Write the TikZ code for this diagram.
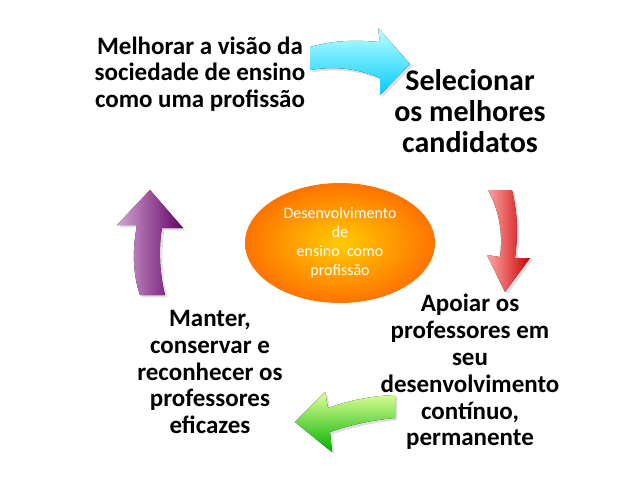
\documentclass[tikz,border=0pt]{standalone}
\usepackage{fontspec}
\setmainfont{Carlito}
\usetikzlibrary{positioning,shadows,shapes.geometric}
\begin{document}
\begin{tikzpicture}[x=1pt,y=-1pt]
\tikzstyle{stagebox}=[align=center, font=\bfseries\fontsize{25}{26.8}\selectfont]
\tikzstyle{bigstage}=[align=center, font=\bfseries\fontsize{30}{31}\selectfont]
\tikzstyle{blockarrow}=[draw=none, drop shadow={opacity=0.25}]
\useasboundingbox (0,0) rectangle (638,479);

% centre
\node [ellipse, minimum width=190pt, minimum height=120pt, inner sep=0pt,
  shading=radial, inner color=orange!40!yellow, outer color=orange!90!red,
  align=center, text=white, font=\fontsize{16}{19}\selectfont] (center) at (340,243)
  {Desenvolvimento\\de\\ensino\ \ como\\profissão};

% steps
\node [stagebox] (vision) at (200,74) {Melhorar a visão da\\sociedade de ensino\\como uma profissão};
\node [bigstage] (select) at (470,111) {Selecionar\\os melhores\\candidatos};
\node [stagebox] (support) at (470,372) {Apoiar os\\professores em\\seu\\desenvolvimento\\contínuo,\\permanente};
\node [stagebox] (keep) at (210,372) {Manter,\\conservar e\\reconhecer os\\professores\\eficazes};

% arrows
\fill [blockarrow, top color=cyan!25, bottom color=cyan!80!blue]
  (310,47) .. controls (335,40) and (355,40) .. (380,42) -- (378,28) -- (410,64)
  -- (380,95) -- (380,78) .. controls (355,68) and (335,66) .. (310,70) -- cycle;
\fill [blockarrow, left color=red!35, right color=red!80!black]
  (488,190) -- (512,190) .. controls (518,215) and (518,235) .. (515,258) -- (530,258)
  -- (505,292) -- (487,255) -- (500,257) .. controls (503,235) and (500,212) .. (488,190) -- cycle;
\fill [blockarrow, top color=green!30!yellow!40, bottom color=green!70!black]
  (395,395) -- (395,418) .. controls (372,420) and (350,425) .. (330,432) -- (332,452)
  -- (295,422) -- (325,392) -- (328,408) .. controls (350,400) and (372,396) .. (395,395) -- cycle;
\fill [blockarrow, left color=violet!35, right color=violet!80!black]
  (140,295) -- (165,295) .. controls (160,275) and (158,250) .. (162,228) -- (183,228)
  -- (150,190) -- (117,225) -- (137,225) .. controls (132,250) and (133,275) .. (140,295) -- cycle;
\end{tikzpicture}
\end{document}
